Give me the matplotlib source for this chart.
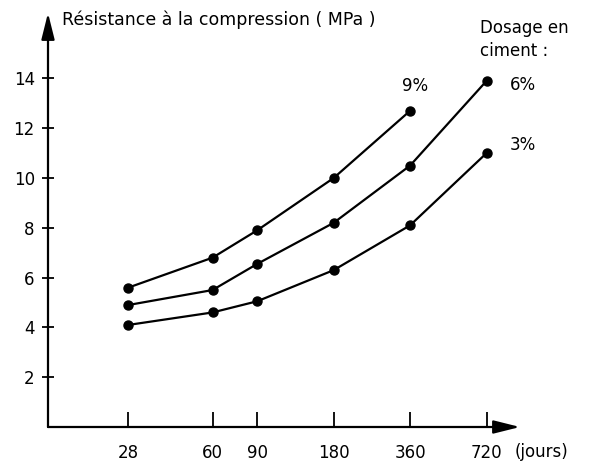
import matplotlib
matplotlib.use("Agg")
import matplotlib.pyplot as plt
from matplotlib.ticker import FixedLocator, NullLocator

days = [28, 60, 90, 180, 360, 720]
day_labels = ["28", "60", "90", "180", "360", "720"]
s9_days = [28, 60, 90, 180, 360]
s9 = [5.6, 6.8, 7.9, 10.0, 12.7]
s6 = [4.9, 5.5, 6.55, 8.2, 10.5, 13.9]
s3 = [4.1, 4.6, 5.05, 6.3, 8.1, 11.0]
y_ticks = [2, 4, 6, 8, 10, 12, 14]

plt.rcParams['font.family'] = ['DejaVu Sans']
FS = 12
fig = plt.figure(figsize=(5.9, 4.65), dpi=100)
W, H = 590, 465
L, R, B, T = 48, 520, 427, 13
ax = fig.add_axes([L / W, (H - B) / H, (R - L) / W, (B - T) / H])
ax.set_xscale('log')
ax.set_xlim(13.5, 975)
ax.set_ylim(0, (B - T) / 24.9)

kw = dict(color='black', lw=1.6, marker='o', ms=6.5, solid_capstyle='round')
ax.plot(s9_days, s9, **kw)
ax.plot(days, s6, **kw)
ax.plot(days, s3, **kw)

for s in ax.spines.values():
    s.set_visible(False)

astyle = '-|>,head_length=1.6,head_width=0.4'
ax.annotate('', xy=(1, 0), xytext=(0, 0), xycoords='axes fraction',
            arrowprops=dict(arrowstyle=astyle, color='black', lw=1.6, shrinkA=0, shrinkB=0))
ax.annotate('', xy=(0, 1), xytext=(0, 0), xycoords='axes fraction',
            arrowprops=dict(arrowstyle=astyle, color='black', lw=1.6, shrinkA=0, shrinkB=0))

ax.xaxis.set_major_locator(FixedLocator(days))
ax.xaxis.set_minor_locator(NullLocator())
ax.set_xticklabels(day_labels, fontsize=FS)
ax.tick_params(axis='x', direction='in', length=11, width=1.3, pad=12)
ax.set_yticks(y_ticks)
ax.set_yticklabels([str(v) for v in y_ticks], fontsize=FS)
ax.tick_params(axis='y', direction='inout', length=9, width=1.3, pad=5)

def px(x, y):
    return (x / W, 1 - y / H)

fig.text(*px(62, 20), "Résistance à la compression ( MPa )", fontsize=12.5, va='center', ha='left')
fig.text(*px(480, 28), "Dosage en", fontsize=FS, va='center', ha='left')
fig.text(*px(480, 51), "ciment :", fontsize=FS, va='center', ha='left')
ax.annotate("9%", xy=(360, 12.7), xytext=(-6, 18), textcoords='offset points', fontsize=FS, ha='left', va='center')
ax.annotate("6%", xy=(720, 13.9), xytext=(17, -3), textcoords='offset points', fontsize=FS, ha='left', va='center')
ax.annotate("3%", xy=(720, 11.0), xytext=(17, 6), textcoords='offset points', fontsize=FS, ha='left', va='center')
fig.text(*px(515, 452), "(jours)", fontsize=FS, va='center', ha='left')

fig.savefig("out.png", dpi=100)
